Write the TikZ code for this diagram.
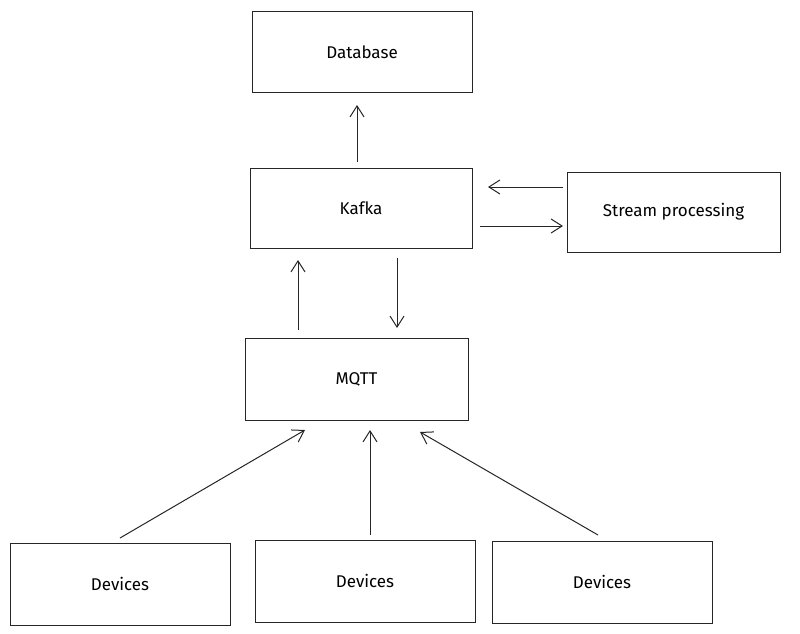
\documentclass[tikz,border=0pt]{standalone}
\usepackage{fontspec}
\setmainfont{Fira Sans}
\usetikzlibrary{arrows.meta}
\begin{document}
\begin{tikzpicture}[x=1pt,y=-1pt,
  box/.style={draw=black!85,line width=1pt,minimum width=#1,inner sep=0pt,font=\fontsize{17}{20}\selectfont},
  arr/.style={draw=black!85,line width=1pt,-{Straight Barb[length=11pt,width=14pt,line width=1pt]}}]
\useasboundingbox (0,0) rectangle (800,634);
\node[box=220pt,minimum height=80pt] (db) at (362,52) {Database};
\node[box=222pt,minimum height=80pt] (kafka) at (361,208) {Kafka};
\node[box=213pt,minimum height=80pt] (sp) at (673.5,212) {Stream processing};
\node[box=223pt,minimum height=82pt] (mqtt) at (356.5,379) {MQTT};
\node[box=220pt,minimum height=82pt] (d1) at (120,584) {Devices};
\node[box=220pt,minimum height=82pt] (d2) at (365,581) {Devices};
\node[box=220pt,minimum height=82pt] (d3) at (602,582) {Devices};
\coordinate (a1) at (357,162); \coordinate (b1) at (357,105);
\coordinate (a2) at (563,187); \coordinate (b2) at (488,187);
\coordinate (a3) at (480,226); \coordinate (b3) at (563,226);
\coordinate (a4) at (298,330); \coordinate (b4) at (298,260);
\coordinate (a5) at (397,258); \coordinate (b5) at (397,328);
\coordinate (a6) at (120,538); \coordinate (b6) at (305,430);
\coordinate (a7) at (370,535); \coordinate (b7) at (370,430);
\coordinate (a8) at (598,535); \coordinate (b8) at (420,432);
\foreach \i in {1,...,8} \draw[arr] (a\i) -- (b\i);
\end{tikzpicture}
\end{document}
